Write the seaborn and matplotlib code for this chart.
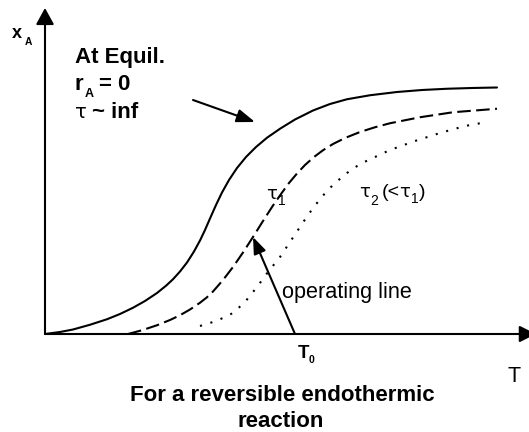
import matplotlib
matplotlib.use("Agg")
import matplotlib.pyplot as plt
import seaborn as sns

# Temperature (arbitrary units measured from the origin) and conversion x_A
# Equilibrium curve (tau -> infinity)
t_equil = [0.00, 0.15, 0.28, 0.45, 0.62, 0.75, 0.88, 1.00, 1.12, 1.21,
           1.28, 1.35, 1.42, 1.49, 1.55, 1.60, 1.65, 1.71, 1.77, 1.84,
           1.92, 2.01, 2.11, 2.22, 2.35, 2.50, 2.68, 2.85, 3.02, 3.25,
           3.52, 3.77, 4.02, 4.27, 4.52]
x_equil = [0.000, 0.008, 0.018, 0.037, 0.059, 0.080, 0.105, 0.132, 0.164, 0.193,
           0.219, 0.250, 0.286, 0.330, 0.374, 0.416, 0.462, 0.516, 0.566, 0.616,
           0.664, 0.708, 0.748, 0.785, 0.821, 0.858, 0.894, 0.920, 0.939, 0.955,
           0.968, 0.976, 0.981, 0.984, 0.986]

# Space time tau_1
t_tau1 = [0.83, 0.97, 1.12, 1.25, 1.35, 1.45, 1.55, 1.62, 1.68, 1.78,
          1.88, 1.98, 2.08, 2.18, 2.28, 2.36, 2.44, 2.52, 2.60, 2.69,
          2.78, 2.88, 3.00, 3.15, 3.30, 3.45, 3.75, 4.08, 4.52]
x_tau1 = [0.000, 0.015, 0.035, 0.056, 0.075, 0.098, 0.125, 0.147, 0.170, 0.216,
          0.268, 0.326, 0.388, 0.452, 0.514, 0.560, 0.604, 0.642, 0.676, 0.708,
          0.735, 0.760, 0.784, 0.808, 0.827, 0.843, 0.867, 0.887, 0.901]

# Space time tau_2 (< tau_1)
t_tau2 = [1.55, 1.68, 1.78, 1.88, 2.00, 2.12, 2.23, 2.35, 2.45, 2.55,
          2.63, 2.72, 2.81, 2.90, 3.02, 3.15, 3.30, 3.45, 3.70, 3.95,
          4.20, 4.42]
x_tau2 = [0.032, 0.048, 0.064, 0.084, 0.128, 0.188, 0.248, 0.308, 0.368, 0.428,
          0.476, 0.524, 0.568, 0.604, 0.644, 0.680, 0.708, 0.736, 0.772, 0.804,
          0.832, 0.848]

# Feed temperature and the point the operating line reaches on the tau_1 curve
T0 = 2.50
t_op, x_op = 2.08, 0.388

sns.set_theme(style="white")
plt.rcParams["font.family"] = ["Liberation Sans", "DejaVu Sans"]

W, H = 529, 432
fig = plt.figure(figsize=(W / 100, H / 100), dpi=100)
fig.patch.set_facecolor("white")
ax = fig.add_axes([0, 0, 1, 1])
ax.set_xlim(-0.45, 4.84)
ax.set_ylim(-0.392, 1.336)
ax.axis("off")

LW = 1.5
sns.lineplot(x=t_equil, y=x_equil, ax=ax, color="black", lw=LW)
sns.lineplot(x=t_tau1, y=x_tau1, ax=ax, color="black", lw=LW)
ax.lines[-1].set_dashes((6.5, 2.6))
sns.lineplot(x=t_tau2, y=x_tau2, ax=ax, color="black", lw=LW)
ax.lines[-1].set_dashes((1.0, 4.2))
for ln in ax.lines:
    ln.set_dash_capstyle("butt")
    ln.set_solid_joinstyle("round")


def arrow(start, end, hl, hw, lw=LW):
    ax.annotate("", xy=end, xytext=start, annotation_clip=False,
                arrowprops=dict(arrowstyle=f"-|>,head_length={hl},head_width={hw}",
                                lw=lw, color="black", shrinkA=0, shrinkB=0,
                                mutation_scale=10))


# axes with arrow heads
arrow((0, 0), (0, 1.304), 1.0, 0.55)
arrow((0, 0), (4.91, 0), 1.0, 0.5)
# pointer to the equilibrium curve
arrow((1.48, 0.936), (2.10, 0.848), 1.1, 0.4)
# operating line from T0
arrow((T0, 0), (t_op, x_op), 1.0, 0.38)


def put(px, py, s, size, weight="normal", ha="left", family=None):
    kw = {} if family is None else {"family": family}
    ax.text(px / W, 1 - py / H, s, transform=ax.transAxes, fontsize=size,
            fontweight=weight, ha=ha, va="baseline", color="black", **kw)


TAU = "\u03c4"
GREEK = ["DejaVu Sans"]

# y-axis label
put(12, 38, "x", 13, "bold")
put(25, 45, "A", 7.4, "bold")

# equilibrium annotation
put(75, 63, "At Equil.", 16, "bold")
put(75, 90, "r", 16, "bold")
put(85, 97, "A", 9, "bold")
put(99, 90, "= 0", 16, "bold")
put(75, 118, TAU, 14, family=GREEK)
put(92, 118, "~ inf", 16, "bold")

# curve labels
put(266, 199, TAU, 13, family=GREEK)
put(278, 205, "1", 10)
put(359, 197, TAU, 13, family=GREEK)
put(370, 205, "2", 10)
put(382, 197, "(<", 14)
put(399, 197, TAU, 13, family=GREEK)
put(411, 203, "1", 10)
put(419, 197, ")", 14)

put(282, 298, "operating line", 15.6)

put(298, 358, "T", 13.5, "bold")
put(309, 363, "0", 7.5, "bold")
put(507, 382, "T", 15.5)

put(282, 401, "For a reversible endothermic", 16, "bold", ha="center")
put(281, 427, "reaction", 16, "bold", ha="center")

fig.savefig("out.png", dpi=100, facecolor="white")
